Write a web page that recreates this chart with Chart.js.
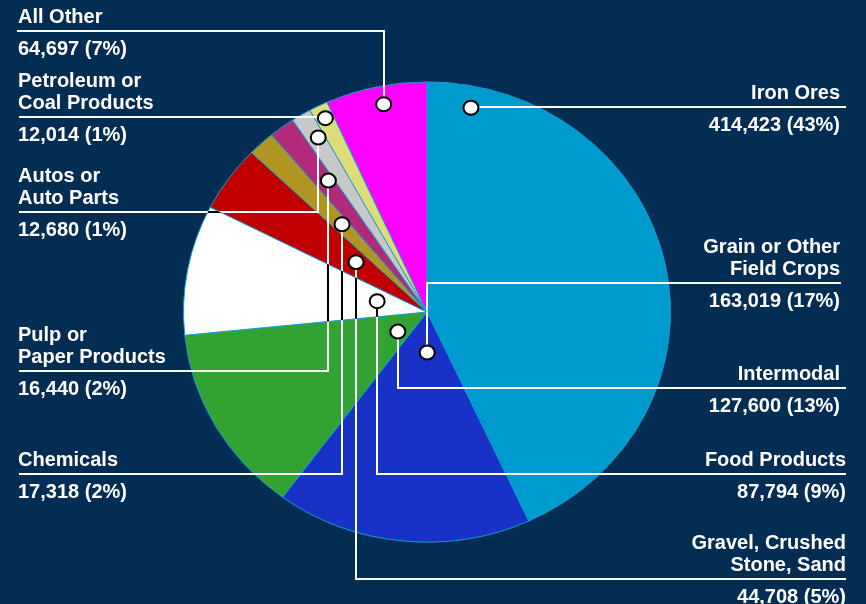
<!DOCTYPE html>
<html>
<head>
<meta charset="utf-8">
<script src="https://cdn.jsdelivr.net/npm/chart.js@4"></script>
<style>
  html, body { margin: 0; padding: 0; background: #032d53; }
  canvas { display: block; }
</style>
</head>
<body>
<canvas id="pie" width="866" height="604"></canvas>
<script>
// carloads by commodity
const categories = [
  ['Iron Ores'],
  ['Grain or Other', 'Field Crops'],
  ['Intermodal'],
  ['Food Products'],
  ['Gravel, Crushed', 'Stone, Sand'],
  ['Chemicals'],
  ['Pulp or', 'Paper Products'],
  ['Autos or', 'Auto Parts'],
  ['Petroleum or', 'Coal Products'],
  ['All Other']
];
const carloads = [414423, 163019, 127600, 87794, 44708, 17318, 16440, 12680, 12014, 64697];
const sliceColors = ['#009bce', '#1832c8', '#32a232', '#ffffff', '#c00000',
  '#b29422', '#b22a7a', '#c8c8c8', '#dcdc78', '#ff00ff'];

// label layout
const labelSide = ['right', 'right', 'right', 'right', 'right', 'left', 'left', 'left', 'left', 'left'];
const labelLineY = [107, 283, 388, 474, 579, 474, 371, 212, 117, 31];
const labelTextX = [840, 840, 840, 846, 846, 18, 18, 18, 18, 18];
const labelLineEnd = [846, 841, 846, 846, 846, 19, 19, 19, 19, 17];
// where the dot sits: [fraction of slice angle, fraction of radius]
const dotSpot = [[0.074, 0.906], [0.40, 0.176], [0.38, 0.147], [0.57, 0.21], [0.57, 0.363],
  [0.57, 0.517], [0.70, 0.70], [0.63, 0.88], [0.53, 0.94], [0.54, 0.92]];

const ellipseK = 0.945; // pie is a bit flatter than a circle
const font = 'bold 20px "Liberation Sans", Arial, sans-serif';

function drawLabels(chart) {
  const ctx = chart.ctx;
  const arcs = chart.getDatasetMeta(0).data;
  const total = carloads.reduce((a, b) => a + b, 0);

  const dots = arcs.map((arc, i) => {
    const a = arc.startAngle + dotSpot[i][0] * (arc.endAngle - arc.startAngle);
    const r = arc.outerRadius * dotSpot[i][1];
    return { x: arc.x + r * Math.cos(a), y: arc.y + r * ellipseK * Math.sin(a) };
  });

  const leaders = () => {
    ctx.beginPath();
    dots.forEach((d, i) => {
      ctx.moveTo(labelLineEnd[i], labelLineY[i]);
      ctx.lineTo(Math.round(d.x), labelLineY[i]);
      ctx.lineTo(Math.round(d.x), d.y);
    });
    ctx.stroke();
  };

  ctx.save();
  ctx.lineWidth = 2;
  ctx.strokeStyle = '#ffffff';
  leaders();

  // lines turn black where they cross the white slice
  const w = arcs[sliceColors.indexOf('#ffffff')];
  ctx.save();
  ctx.beginPath();
  ctx.moveTo(w.x, w.y);
  ctx.ellipse(w.x, w.y, w.outerRadius, w.outerRadius * ellipseK, 0, w.startAngle, w.endAngle);
  ctx.closePath();
  ctx.clip();
  ctx.strokeStyle = '#000000';
  leaders();
  ctx.restore();

  // dots
  dots.forEach((d) => {
    ctx.beginPath();
    ctx.ellipse(d.x, d.y, 7.5, 7, 0, 0, Math.PI * 2);
    ctx.fillStyle = '#ffffff';
    ctx.fill();
    ctx.lineWidth = 2;
    ctx.strokeStyle = '#000000';
    ctx.stroke();
  });

  // texts
  ctx.font = font;
  ctx.fillStyle = '#ffffff';
  ctx.textBaseline = 'alphabetic';
  categories.forEach((lines, i) => {
    ctx.textAlign = labelSide[i] === 'left' ? 'left' : 'right';
    const y0 = labelLineY[i] - 8.5 - (lines.length - 1) * 21.5;
    lines.forEach((t, j) => ctx.fillText(t, labelTextX[i], y0 + j * 21.5));
    const pct = Math.round((carloads[i] / total) * 100);
    ctx.fillText(carloads[i].toLocaleString('en-US') + ' (' + pct + '%)', labelTextX[i], labelLineY[i] + 24);
  });
  ctx.restore();
}

const ellipsePlugin = {
  id: 'ellipse',
  beforeDatasetsDraw(chart) {
    const arc = chart.getDatasetMeta(0).data[0];
    const ctx = chart.ctx;
    ctx.save();
    ctx.translate(arc.x, arc.y);
    ctx.scale(1, ellipseK);
    ctx.translate(-arc.x, -arc.y);
  },
  afterDatasetsDraw(chart) {
    chart.ctx.restore();
    drawLabels(chart);
  }
};

new Chart(document.getElementById('pie'), {
  type: 'pie',
  data: {
    labels: categories.map((c) => c.join(' ')),
    datasets: [
      {
        data: carloads,
        backgroundColor: sliceColors,
        borderColor: '#139fd3',
        borderWidth: 1
      }
    ]
  },
  options: {
    responsive: false,
    animation: false,
    layout: { padding: { left: 183, right: 195, top: 68, bottom: 48 } },
    plugins: {
      legend: { display: false },
      tooltip: { enabled: false }
    }
  },
  plugins: [ellipsePlugin]
});
</script>
</body>
</html>
